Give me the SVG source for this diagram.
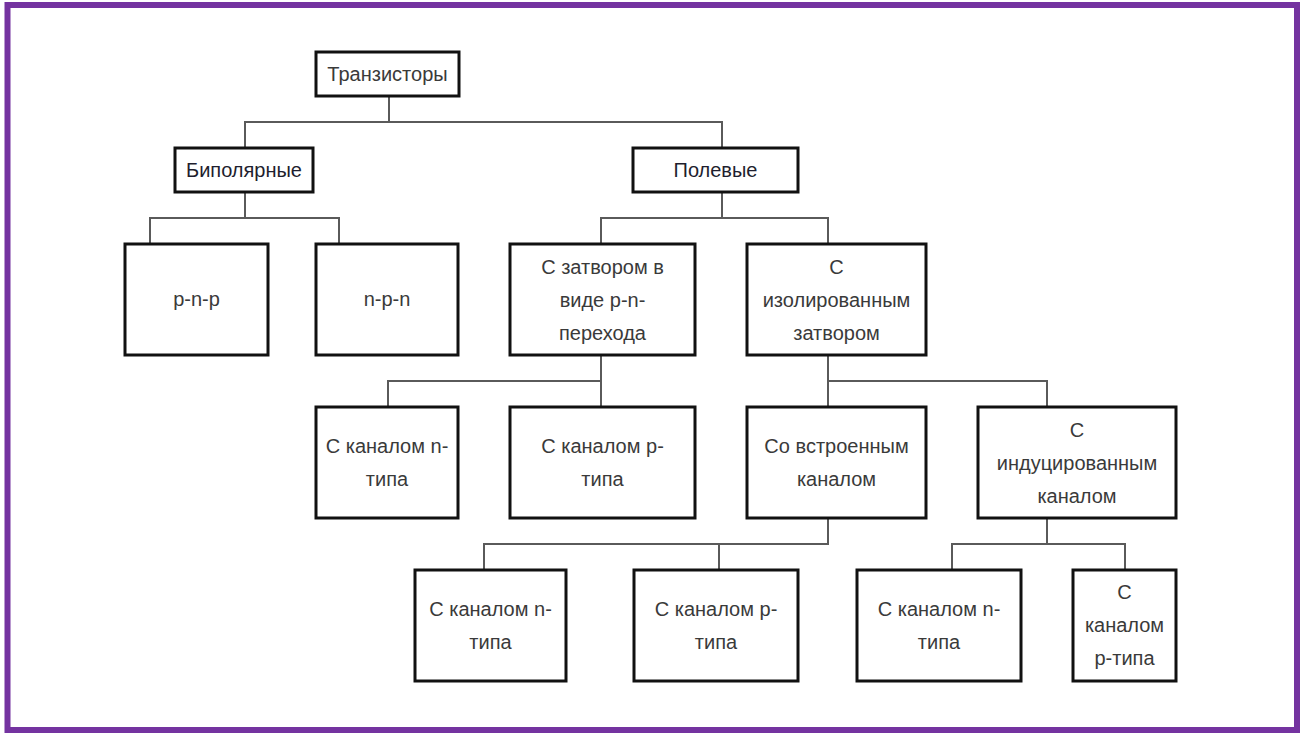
<svg xmlns="http://www.w3.org/2000/svg" width="1306" height="733" viewBox="0 0 1306 733">
<style>
.frame{fill:#ffffff;stroke:#7433a0;stroke-width:6}
.box{fill:#ffffff;stroke:#111111;stroke-width:3}
.conn{fill:none;stroke:#5a5a5a;stroke-width:2}
text{font-family:"Liberation Sans",Arial,sans-serif;font-size:20px;fill:#3a3a3a;text-anchor:middle}
.dk{fill:#1e1e2e}
</style>
<rect class="frame" x="7.5" y="5" width="1289.5" height="725"/>
<g id="connectors">
<path class="conn" d="M389 96V122M245 148V122H722V148"/>
<path class="conn" d="M245 192V218M150 244V218H339V244"/>
<path class="conn" d="M722 192V218M601 244V218H828V244"/>
<path class="conn" d="M601 355V407M388 407V381H601"/>
<path class="conn" d="M828 355V407M828 381H1047V407"/>
<path class="conn" d="M828 518V544H484V570M719 544V570"/>
<path class="conn" d="M1047 518V544M952 570V544H1125V570"/>
</g>
<g id="n_root"><rect class="box" x="316" y="52" width="143" height="44"/><text x="387.5" y="81">Транзисторы</text></g>
<g id="n_bip"><rect class="box" x="175" y="148" width="138" height="44"/><text class="dk" x="244" y="177">Биполярные</text></g>
<g id="n_field"><rect class="box" x="633" y="148" width="165" height="44"/><text class="dk" x="715.5" y="177">Полевые</text></g>
<g id="n_pnp"><rect class="box" x="125" y="244" width="143" height="111"/><text x="196.5" y="306">p-n-p</text></g>
<g id="n_npn"><rect class="box" x="316" y="244" width="142" height="111"/><text x="387" y="306">n-p-n</text></g>
<g id="n_junction"><rect class="box" x="510" y="244" width="185" height="111"/><text x="602.5" y="274">С затвором в</text><text x="602.5" y="307">виде p-n-</text><text x="602.5" y="340">перехода</text></g>
<g id="n_insulated"><rect class="box" x="747" y="244" width="179" height="111"/><text x="836.5" y="274">С</text><text x="836.5" y="307">изолированным</text><text x="836.5" y="340">затвором</text></g>
<g id="n_j_n"><rect class="box" x="316" y="407" width="142" height="111"/><text x="387" y="453">С каналом n-</text><text x="387" y="486">типа</text></g>
<g id="n_j_p"><rect class="box" x="510" y="407" width="185" height="111"/><text x="602.5" y="453">С каналом p-</text><text x="602.5" y="486">типа</text></g>
<g id="n_builtin"><rect class="box" x="747" y="407" width="179" height="111"/><text x="836.5" y="453">Со встроенным</text><text x="836.5" y="486">каналом</text></g>
<g id="n_induced"><rect class="box" x="978" y="407" width="198" height="111"/><text x="1077" y="437">С</text><text x="1077" y="470">индуцированным</text><text x="1077" y="503">каналом</text></g>
<g id="n_b_n"><rect class="box" x="415" y="570" width="151" height="111"/><text x="490.5" y="616">С каналом n-</text><text x="490.5" y="649">типа</text></g>
<g id="n_b_p"><rect class="box" x="634" y="570" width="164" height="111"/><text x="716" y="616">С каналом p-</text><text x="716" y="649">типа</text></g>
<g id="n_i_n"><rect class="box" x="857" y="570" width="164" height="111"/><text x="939" y="616">С каналом n-</text><text x="939" y="649">типа</text></g>
<g id="n_i_p"><rect class="box" x="1073" y="570" width="103" height="111"/><text x="1124.5" y="599">С</text><text x="1124.5" y="632">каналом</text><text x="1124.5" y="665">p-типа</text></g>
</svg>
